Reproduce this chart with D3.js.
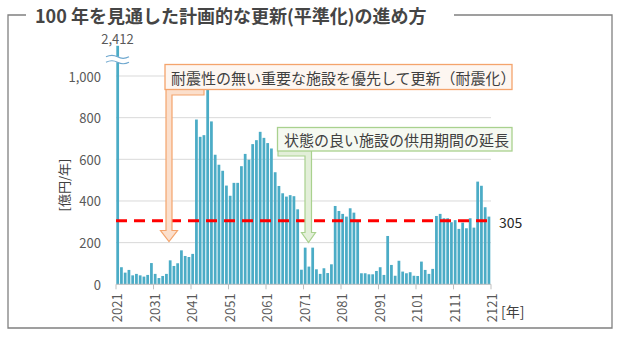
<!DOCTYPE html>
<html><head><meta charset="utf-8">
<script src="https://cdn.jsdelivr.net/npm/d3@7"></script>
<style>body{margin:0;background:#fff}</style>
</head><body><svg id="c" width="620" height="339"></svg>
<script>
const titleText = "100 年を見通した計画的な更新(平準化)の進め方";
const startYear = 2021;
const values = [2412,
  82,56,69,43,50,43,37,45,102,50,30,40,50,115,88,101,163,136,131,146,
  791,708,716,960,782,622,574,545,474,425,487,487,567,626,598,673,692,732,703,678,652,538,472,437,421,428,423,360,
  70,176,85,176,72,50,77,54,96,
  376,352,338,325,365,344,300,
  53,53,48,48,64,82,45,
  232,
  93,41,113,61,53,58,41,40,109,69,50,74,
  328,338,317,317,298,308,266,296,269,317,272,493,473,370,325];
const years = values.map((v, i) => startYear + i);
const yTicks = [0, 200, 400, 600, 800, 1000];
const xTickYears = [2021, 2031, 2041, 2051, 2061, 2071, 2081, 2091, 2101, 2111, 2121];
const averageValue = 305;
const breakCap = 1145;
const yTitle = "[億円/年]";
const xUnit = "[年]";
const note1 = "耐震性の無い重要な施設を優先して更新（耐震化）";
const note2 = "状態の良い施設の供用期間の延長";

const font = "'Noto Sans CJK JP','Noto Sans',sans-serif";
const svg = d3.select("#c").style("font-family", font);

const x = d3.scaleLinear().domain([2021, 2121]).range([116, 491]);
const y = d3.scaleLinear().domain([0, 1000]).range([284.3, 76]);

// frame
svg.append("path").attr("d", "M26,15H8V328H612V15H454")
  .attr("fill", "none").attr("stroke", "#808080").attr("stroke-width", 1.3);
svg.append("text").attr("x", 35).attr("y", 15).attr("dominant-baseline", "central")
  .attr("font-size", 18).attr("font-weight", "bold").attr("fill", "#454545").text(titleText);

// grid
svg.append("g").selectAll("line").data(yTicks.filter(d => d > 0)).join("line")
  .attr("x1", x(2021)).attr("x2", x(2121)).attr("y1", d => y(d)).attr("y2", d => y(d))
  .attr("stroke", "#d9d9d9").attr("stroke-width", 1);

// y labels
svg.append("g").selectAll("text").data(yTicks).join("text")
  .attr("x", 101).attr("y", d => y(d)).attr("text-anchor", "end").attr("dominant-baseline", "central")
  .attr("font-size", 13).attr("fill", "#595959").text(d => d3.format(",")(d));

// bars
svg.append("g").selectAll("rect").data(values).join("rect")
  .attr("x", (d, i) => x(years[i]) + 0.3)
  .attr("width", (d, i) => x(years[i] + 1) - x(years[i]) - 1)
  .attr("y", d => y(Math.min(d, breakCap)))
  .attr("height", d => y(0) - y(Math.min(d, breakCap)))
  .attr("fill", "#4bacc6");

// break marks on the outlier
const bx = x(2021);
svg.append("rect").attr("x", bx - 10).attr("y", y(1092)).attr("width", 24).attr("height", y(1066) - y(1092)).attr("fill", "#fff");
[1092, 1066].forEach(v => {
  const yy = y(v);
  svg.append("path").attr("d", `M${bx-10},${yy} Q${bx-4},${yy-3} ${bx+1.5},${yy} T${bx+13},${yy}`)
    .attr("fill", "none").attr("stroke", "#6fa8cf").attr("stroke-width", 1.2);
});
svg.append("text").attr("x", bx + 1.5).attr("y", 38).attr("text-anchor", "middle").attr("dominant-baseline", "central")
  .attr("font-size", 13).attr("fill", "#595959").text(d3.format(",")(values[0]));

// x axis
svg.append("line").attr("x1", x(2021)).attr("x2", x(2121)).attr("y1", y(0)).attr("y2", y(0))
  .attr("stroke", "#bfbfbf").attr("stroke-width", 1);
svg.append("g").selectAll("line").data(xTickYears).join("line")
  .attr("x1", d => x(d)).attr("x2", d => x(d)).attr("y1", y(0)).attr("y2", y(0) + 5)
  .attr("stroke", "#bfbfbf");
svg.append("g").selectAll("text").data(xTickYears).join("text")
  .attr("transform", d => `translate(${x(d) + 0.5},${y(0) + 9}) rotate(-90)`)
  .attr("text-anchor", "end").attr("dominant-baseline", "central")
  .attr("font-size", 13).attr("fill", "#595959").text(d => d);
svg.append("text").attr("x", 501).attr("y", 311).attr("dominant-baseline", "central")
  .attr("font-size", 14).attr("fill", "#404040").text(xUnit);

// y title
svg.append("text").attr("transform", "translate(63,185) rotate(-90)")
  .attr("text-anchor", "middle").attr("dominant-baseline", "central")
  .attr("font-size", 13).attr("fill", "#404040").text(yTitle);

// average line
svg.append("line").attr("x1", x(2021)).attr("x2", x(2121)).attr("y1", y(averageValue)).attr("y2", y(averageValue))
  .attr("stroke", "#ff0000").attr("stroke-width", 3).attr("stroke-dasharray", "11,7");
svg.append("text").attr("x", 499).attr("y", y(averageValue) + 1).attr("dominant-baseline", "central")
  .attr("font-size", 14).attr("fill", "#262626").text(averageValue);

// annotations
function arrow(x0, x1, top, thick, sx0, sx1, headTop, hx0, hx1, tip, fill, stroke) {
  const cx = (hx0 + hx1) / 2;
  const d = `M${x0},${top} H${x1} V${top + thick} H${sx1} V${headTop} H${hx1} L${cx},${tip} L${hx0},${headTop} H${sx0} V${top + thick} H${x0} Z`;
  svg.append("path").attr("d", d).attr("fill", fill).attr("stroke", stroke).attr("stroke-width", 1.2);
}
arrow(166, 204, 89.5, 5.5, 166, 172, 230.5, 160.5, 177.5, 241.5, "#fbdfcc", "#f4a46c");
svg.append("rect").attr("x", 165).attr("y", 64.5).attr("width", 347).attr("height", 25)
  .attr("fill", "#fdf6f1").attr("stroke", "#f4a46c").attr("stroke-width", 1.3);
svg.append("text").attr("x", 171).attr("y", 77.5).attr("dominant-baseline", "central")
  .attr("font-size", 15).attr("fill", "#404040").text(note1);

arrow(278, 311.5, 150.5, 5.5, 305, 311.5, 232.5, 301.5, 315.5, 242.5, "#e3efd9", "#a9d18e");
svg.append("rect").attr("x", 277.5).attr("y", 127.5).attr("width", 234.5).attr("height", 23.5)
  .attr("fill", "#f5f9f1").attr("stroke", "#a9d18e").attr("stroke-width", 1.3);
svg.append("text").attr("x", 284).attr("y", 139.5).attr("dominant-baseline", "central")
  .attr("font-size", 15).attr("fill", "#404040").text(note2);
</script></body></html>
